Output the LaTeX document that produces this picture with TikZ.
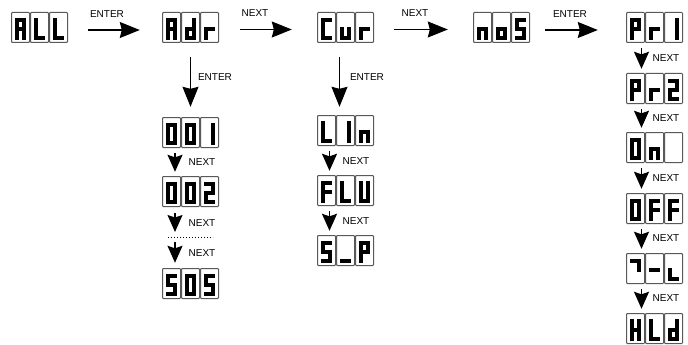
\documentclass[tikz,border=0pt]{standalone}
\usepackage{fontspec}
\setmainfont{Liberation Sans}
\usetikzlibrary{arrows.meta}
\tikzset{
  sg/.style={line width=3.9pt, line cap=rect},
  cellbox/.style={draw=black!65, line width=1pt, rounded corners=0.8pt},
  dispbox/.style={minimum width=57pt, minimum height=31pt, inner sep=0pt, draw=none},
  bigarr/.style={line width=1.2pt, -{Stealth[length=20pt,width=16pt,inset=2pt]}},
  smallarr/.style={line width=1.3pt, -{Stealth[length=17pt,width=15pt,inset=2.5pt]}},
  dotline/.style={line width=1pt, dash pattern=on 1pt off 2pt},
  lbl/.style={font=\fontsize{10}{12}\selectfont, inner sep=0pt},
}
% seven segments (cell-local coordinates, y downward)
\newcommand\sgA{\draw[sg] (5.8,7.8) -- (13.2,7.8);}
\newcommand\sgB{\draw[sg] (13.2,7.8) -- (13.2,17);}
\newcommand\sgC{\draw[sg] (13.2,17) -- (13.2,26.2);}
\newcommand\sgD{\draw[sg] (5.8,26.2) -- (13.2,26.2);}
\newcommand\sgE{\draw[sg] (5.8,17) -- (5.8,26.2);}
\newcommand\sgF{\draw[sg] (5.8,7.8) -- (5.8,17);}
\newcommand\sgG{\draw[sg] (5.8,17) -- (13.2,17);}
% glyphs
\newcommand\glA{\sgA\sgB\sgC\sgE\sgF\sgG}
\newcommand\glL{\sgD\sgE\sgF}
\newcommand\gld{\sgB\sgC\sgD\sgE\sgG}
\newcommand\glr{\sgE\sgG}
\newcommand\glC{\sgA\sgD\sgE\sgF}
\newcommand\glu{\sgC\sgD\sgE}
\newcommand\gln{\sgC\sgE\sgG}
\newcommand\glo{\sgC\sgD\sgE\sgG}
\newcommand\glS{\sgA\sgC\sgD\sgF\sgG}
\newcommand\glP{\sgA\sgB\sgE\sgF\sgG}
\newcommand\glOne{\sgB\sgC}
\newcommand\glTwo{\sgA\sgB\sgD\sgE\sgG}
\newcommand\glZero{\sgA\sgB\sgC\sgD\sgE\sgF}
\newcommand\glF{\sgA\sgE\sgF\sgG}
\newcommand\glU{\sgB\sgC\sgD\sgE\sgF}
\newcommand\glH{\sgB\sgC\sgE\sgF\sgG}
\newcommand\glSeven{\sgA\sgB}
\newcommand\glLow{\sgD\sgE}
\newcommand\glMinus{\sgG}
\newcommand\glUnder{\sgD}
\newcommand\glBlank{}
% display: name, left x, top y, three glyphs
\newcommand\Display[6]{%
  \node[dispbox] (#1) at ({#2+28.5},{#3+15.5}) {};
  \foreach \k in {0,1,2} {\draw[cellbox] ({#2+19*\k+0.5},{#3+0.5}) rectangle ++(18,30);}
  \begin{scope}[shift={(#2,#3)}]#4\end{scope}
  \begin{scope}[shift={({#2+19},#3)}]#5\end{scope}
  \begin{scope}[shift={({#2+38},#3)}]#6\end{scope}
}
\begin{document}
\begin{tikzpicture}[x=1pt,y=-1pt]
\useasboundingbox (0,0) rectangle (688,345);
% top row
\Display{ALL}{11}{12}{\glA}{\glL}{\glL}
\Display{Adr}{162}{12}{\glA}{\gld}{\glr}
\Display{Cur}{317}{12}{\glC}{\glu}{\glr}
\Display{noS}{473}{12}{\gln}{\glo}{\glS}
\Display{Pr1}{626}{12}{\glP}{\glr}{\glOne}
% Adr column
\Display{n001}{162}{117}{\glZero}{\glZero}{\glOne}
\Display{n002}{162}{176}{\glZero}{\glZero}{\glTwo}
\Display{n505}{162}{268}{\glS}{\glZero}{\glS}
% Cur column
\Display{L1n}{317}{115}{\glL}{\glOne}{\gln}
\Display{FLU}{317}{175}{\glF}{\glL}{\glU}
\Display{SP}{317}{235}{\glS}{\glUnder}{\glP}
% right column
\Display{Pr2}{626}{73}{\glP}{\glr}{\glTwo}
\Display{On}{626}{132}{\glZero}{\gln}{\glBlank}
\Display{OFF}{626}{193}{\glZero}{\glF}{\glF}
\Display{SevL}{626}{253}{\glSeven}{\glMinus}{\glLow}
\Display{HLd}{626}{313}{\glH}{\glL}{\gld}

% horizontal arrows
\draw[bigarr, shorten <=20pt, shorten >=22pt] ([yshift=-2.5pt]ALL.east) -- ([yshift=-2.5pt]Adr.west);
\draw[bigarr, shorten <=21pt, shorten >=25pt] ([yshift=-2pt]Adr.east) -- ([yshift=-2pt]Cur.west);
\draw[bigarr, shorten <=20pt, shorten >=25pt] ([yshift=-2pt]Cur.east) -- ([yshift=-2pt]noS.west);
\draw[bigarr, shorten <=15pt, shorten >=28pt] ([yshift=-2.5pt]noS.east) -- ([yshift=-2.5pt]Pr1.west);
\node[lbl] (l1) at (107,14) {ENTER};
\node[lbl] (l2) at (255,13) {NEXT};
\node[lbl] (l3) at (415,13) {NEXT};
\node[lbl] (l4) at (570,14) {ENTER};

% vertical ENTER arrows
\draw[bigarr, shorten <=14pt, shorten >=10pt] (Adr.south) -- (n001.north);
\node[lbl] (l5) at (215,77) {ENTER};
\draw[bigarr, shorten <=14pt, shorten >=8pt] ([xshift=-6pt]Cur.south) -- ([xshift=-6pt]L1n.north);
\node[lbl] (l6) at (367,77) {ENTER};

% Adr column small arrows
\draw[smallarr, shorten <=5pt, shorten >=4pt] ([xshift=-15.5pt]n001.south) -- ([xshift=-15.5pt]n002.north);
\node[lbl] (l7) at (202,162) {NEXT};
\coordinate (dotsA) at (175,232);
\coordinate (dotsB) at (175,242);
\draw[smallarr, shorten <=6pt] ([xshift=-15.5pt]n002.south) -- (dotsA);
\node[lbl] (l8) at (202,223) {NEXT};
\draw[dotline] (168,237) -- (213,237);
\draw[smallarr, shorten >=5pt] (dotsB) -- ([xshift=-15.5pt]n505.north);
\node[lbl] (l9) at (202,253) {NEXT};

% Cur column small arrows
\draw[smallarr, shorten <=5pt, shorten >=4pt] ([xshift=-16pt]L1n.south) -- ([xshift=-16pt]FLU.north);
\node[lbl] (l10) at (356,161) {NEXT};
\draw[smallarr, shorten <=5pt, shorten >=4pt] ([xshift=-16pt]FLU.south) -- ([xshift=-16pt]SP.north);
\node[lbl] (l11) at (356,221) {NEXT};

% right column small arrows
\draw[smallarr, shorten <=5pt, shorten >=4pt] ([xshift=-13pt]Pr1.south) -- ([xshift=-13pt]Pr2.north);
\node[lbl] (l12) at (666,58) {NEXT};
\draw[smallarr, shorten <=5pt, shorten >=4pt] ([xshift=-13pt]Pr2.south) -- ([xshift=-13pt]On.north);
\node[lbl] (l13) at (666,118) {NEXT};
\draw[smallarr, shorten <=5pt, shorten >=4pt] ([xshift=-13pt]On.south) -- ([xshift=-13pt]OFF.north);
\node[lbl] (l14) at (666,178) {NEXT};
\draw[smallarr, shorten <=5pt, shorten >=4pt] ([xshift=-13pt]OFF.south) -- ([xshift=-13pt]SevL.north);
\node[lbl] (l15) at (666,238) {NEXT};
\draw[smallarr, shorten <=5pt, shorten >=4pt] ([xshift=-13pt]SevL.south) -- ([xshift=-13pt]HLd.north);
\node[lbl] (l16) at (666,298) {NEXT};
\end{tikzpicture}
\end{document}
